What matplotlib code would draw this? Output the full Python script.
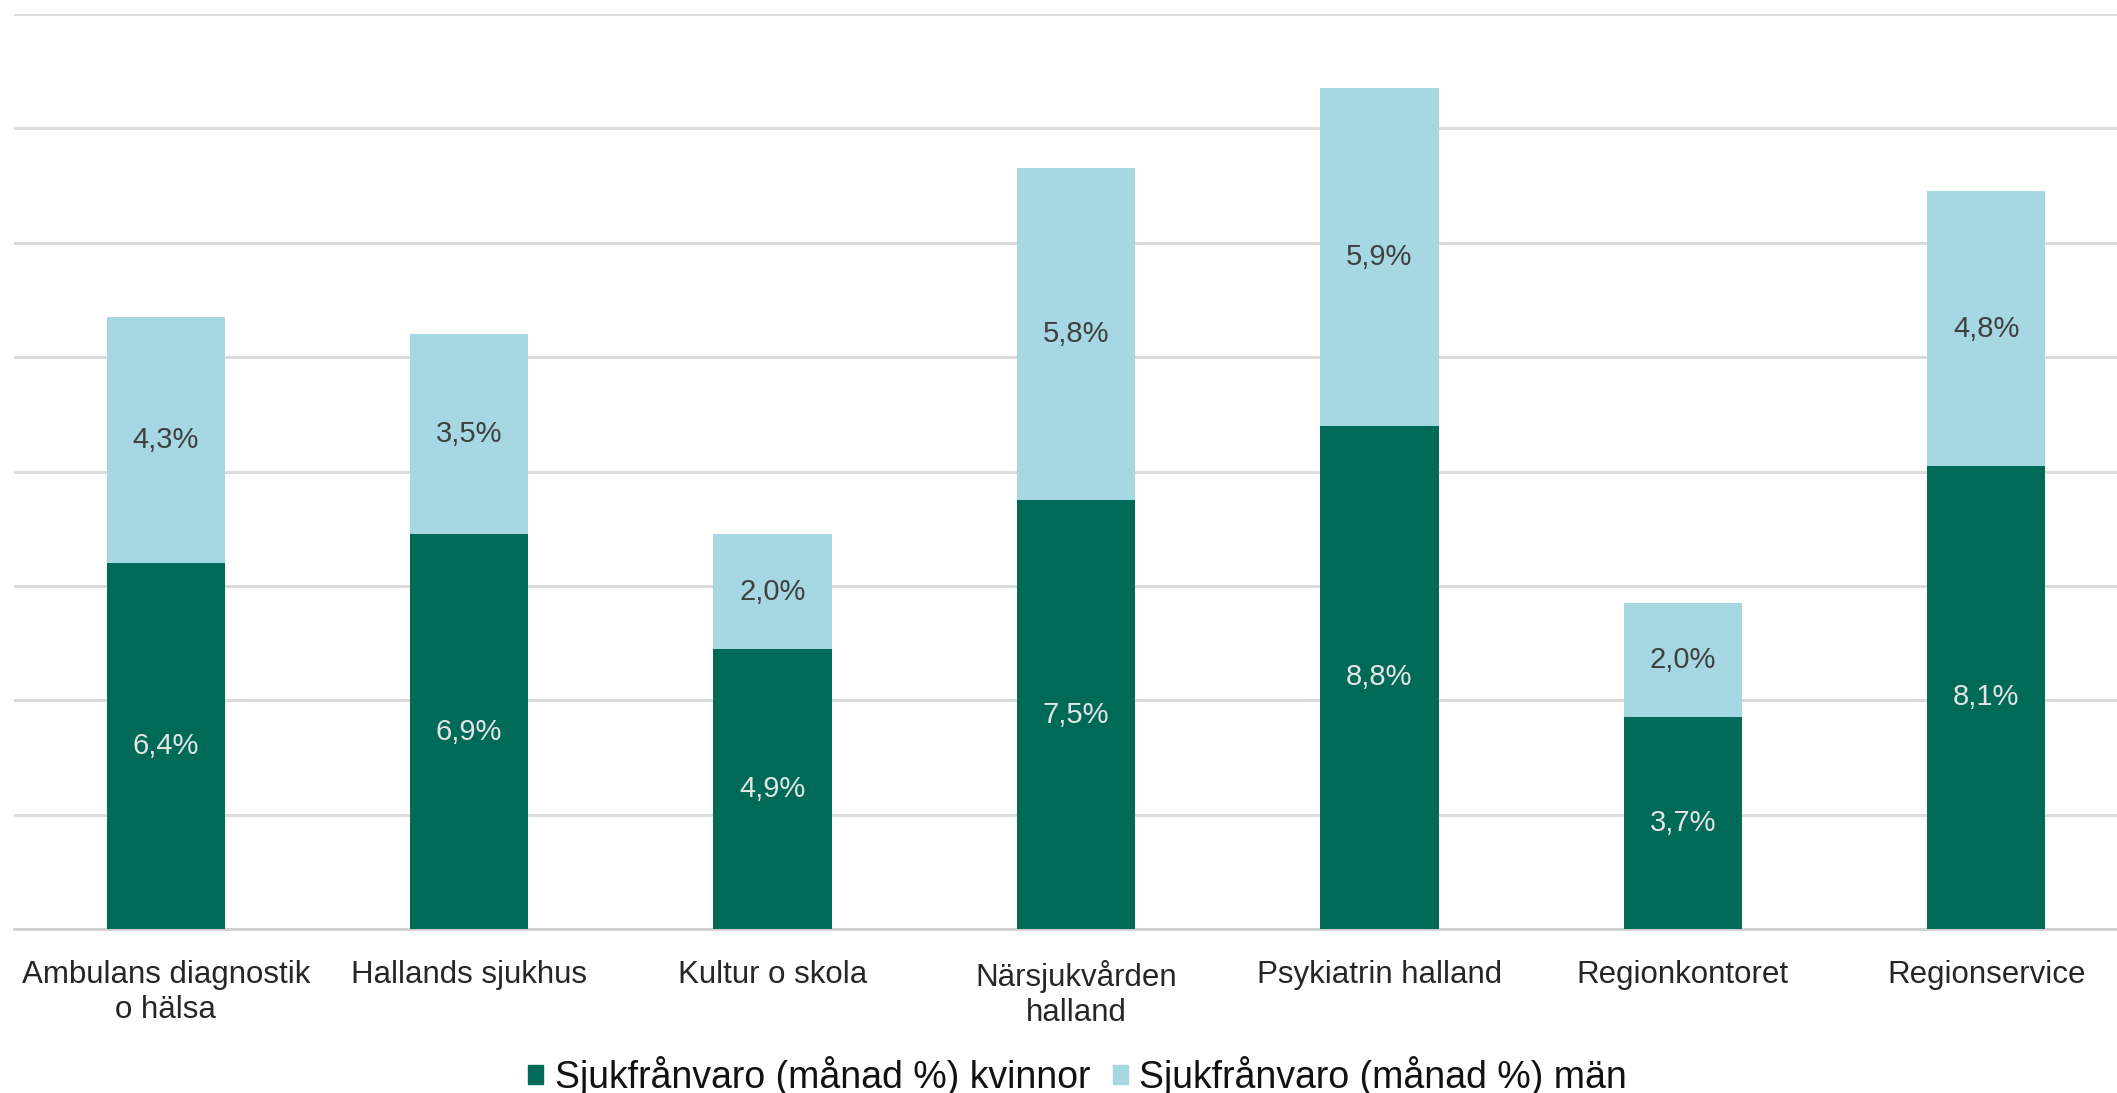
import numpy as np
import matplotlib.pyplot as plt
from matplotlib.patches import Patch

plt.rcParams['font.family'] = ['Liberation Sans', 'DejaVu Sans']

categories = ['Ambulans diagnostik\no hälsa', 'Hallands sjukhus', 'Kultur o skola',
              'Närsjukvården\nhalland', 'Psykiatrin halland', 'Regionkontoret', 'Regionservice']
kvinnor = [6.4, 6.9, 4.9, 7.5, 8.8, 3.7, 8.1]
man = [4.3, 3.5, 2.0, 5.8, 5.9, 2.0, 4.8]
series_names = ['Sjukfrånvaro (månad %) kvinnor', 'Sjukfrånvaro (månad %) män']

c_kv = '#006A58'
c_man = '#A6D8E4'

W, H = 2117, 1093
fig = plt.figure(figsize=(W / 100, H / 100), dpi=100)
# axes spans a bit past the right edge, like the original
ax = fig.add_axes([14 / W, 1 - 929 / H, (2138 - 14) / W, (929 - 14) / H])

x = np.arange(len(categories))
ax.bar(x, kvinnor, width=0.39, color=c_kv, zorder=3)
ax.bar(x, man, width=0.39, bottom=kvinnor, color=c_man, zorder=3)

for i in range(len(x)):
    ax.text(x[i], kvinnor[i] / 2, f'{kvinnor[i]:.1f}%'.replace('.', ','),
            ha='center', va='center', color='#E4E4E4', fontsize=21, zorder=4)
    ax.text(x[i], kvinnor[i] + man[i] / 2, f'{man[i]:.1f}%'.replace('.', ','),
            ha='center', va='center', color='#404040', fontsize=21, zorder=4)

ax.set_xlim(-0.5, 6.5)
ax.set_ylim(0, 16)
ax.set_yticks(np.arange(0, 17, 2))
ax.yaxis.grid(True, color='#D9D9D9', linewidth=2, zorder=0)
ax.tick_params(axis='y', left=False, labelleft=False)
ax.set_xticks(x)
ax.set_xticklabels(categories, fontsize=22.5, color='#262626', linespacing=1.25)
ax.tick_params(axis='x', length=0, pad=22)
for s in ['top', 'right', 'left']:
    ax.spines[s].set_visible(False)
ax.spines['bottom'].set_color('#D0D0D0')
ax.spines['bottom'].set_linewidth(2)

handles = [Patch(color=c_kv), Patch(color=c_man)]
fig.legend(handles, series_names, loc='center', bbox_to_anchor=(0.509, 1 - 1076 / H),
           ncol=2, frameon=False, fontsize=27, handlelength=0.4, handleheight=0.4,
           handletextpad=0.3, columnspacing=0.6, labelcolor='#111111')

fig.savefig('out.png', dpi=100)
